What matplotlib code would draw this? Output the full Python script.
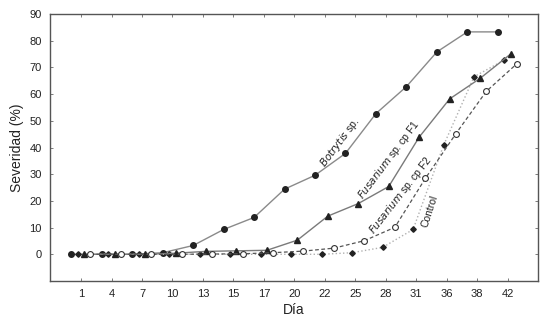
import matplotlib
matplotlib.use("Agg")
import matplotlib.pyplot as plt
import numpy as np

plt.rcParams['font.family'] = ['Liberation Sans', 'DejaVu Sans']

days = ['1', '4', '7', '10', '13', '15', '17', '20', '22', '25', '28', '31', '36', '38', '42']
botrytis = [0, 0, 0, 0.6, 3.3, 9.3, 13.8, 24.4, 29.6, 37.8, 52.7, 62.8, 75.8, 83.3, 83.3]
control = [0, 0, 0, 0, 0, 0, 0, 0, 0, 0.6, 2.6, 9.3, 40.8, 66.5, 72.8]
fus_f1 = [0, 0, 0, 0.4, 1.1, 1.3, 1.5, 5.3, 14.3, 19.0, 25.4, 43.9, 58.2, 65.9, 75.0]
fus_f2 = [0, 0, 0, 0, 0.1, 0.2, 0.6, 1.2, 2.3, 5.1, 10.1, 28.4, 45.1, 61.0, 71.3]

fig = plt.figure(figsize=(5.59, 3.2), dpi=100)
ax = fig.add_axes([50/559, 1-281/320, 488/559, 267/320])

x = np.arange(len(days))
ax.plot(x - 0.32, botrytis, '-', color='#8a8a8a', lw=1.0, marker='o', ms=4.0,
        mfc='#222222', mec='#222222', zorder=3)
ax.plot(x - 0.1, control, ':', color='#b0b0b0', lw=1.0, marker='D', ms=2.8,
        mfc='#222222', mec='#222222', zorder=3)
ax.plot(x + 0.1, fus_f1, '-', color='#7a7a7a', lw=1.0, marker='^', ms=3.8,
        mfc='#222222', mec='#222222', zorder=3)
ax.plot(x + 0.3, fus_f2, '--', color='#555555', lw=0.9, marker='o', ms=4.2,
        mfc='white', mec='#333333', mew=0.8, zorder=4, dashes=(3, 2))

ax.set_xlim(-1.02, 15)
ax.set_ylim(-10, 90)
ax.set_xticks(x)
ax.set_xticklabels(days)
ax.set_yticks(np.arange(0, 91, 10))
ax.tick_params(direction='in', length=2.5, width=0.6, color='#666666',
               labelsize=8, labelcolor='#222222', top=True, right=True, pad=6)
for s in ax.spines.values():
    s.set_color('#555555')
    s.set_linewidth(1.0)

ax.set_xlabel('Día', fontsize=10, color='#222222', labelpad=3)
ax.set_ylabel('Severidad (%)', fontsize=10, color='#222222', labelpad=4)

kw = dict(transform=fig.transFigure, ha='center', va='center', fontsize=7.5,
          color='#222222', rotation_mode='anchor')
ax.text(340/559, 1-143/320, r'$\it{Botrytis}$ sp.', rotation=53, **kw)
ax.text(389/559, 1-160/320, r'$\it{Fusarium}$ sp. cp F1', rotation=53, **kw)
ax.text(401/559, 1-195/320, r'$\it{Fusarium}$ sp. cp F2', rotation=52, **kw)
ax.text(430/559, 1-211/320, 'Control', rotation=72, **kw)

fig.savefig('out.png', dpi=100)
